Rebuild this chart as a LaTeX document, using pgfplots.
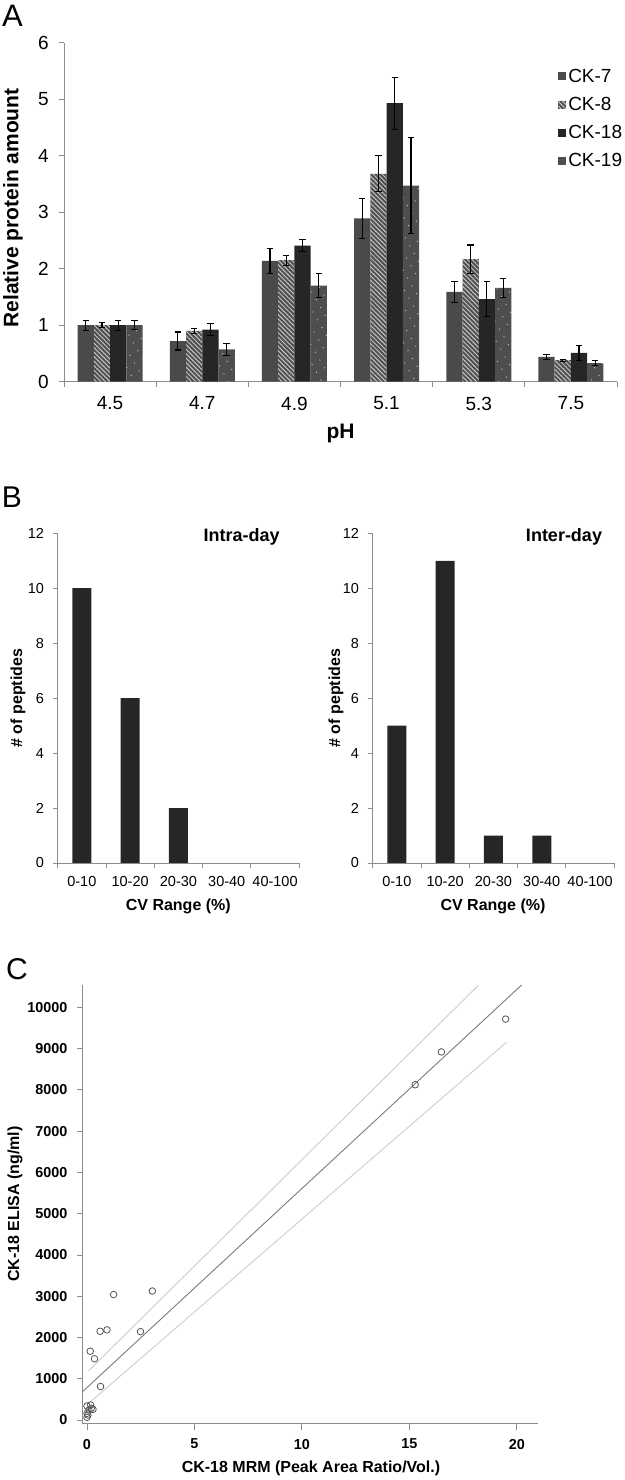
\documentclass[border=0pt]{standalone}
\usepackage{fontspec}
\setmainfont{Liberation Sans}
\usepackage{pgfplots}
\pgfplotsset{compat=1.18}
\usepackage{pgfplotstable}
\usetikzlibrary{patterns.meta}

\definecolor{axgray}{HTML}{8C8C8C}
\definecolor{cka}{HTML}{4A4A4A}
\definecolor{ckb}{HTML}{505050}
\definecolor{ckc}{HTML}{262626}
\definecolor{ckd}{HTML}{4E4E4E}
\definecolor{hatch}{HTML}{C4C4C4}
\definecolor{bardark}{HTML}{262626}
\definecolor{fitgray}{HTML}{7A7A7A}
\definecolor{cigray}{HTML}{CDCDCD}
\definecolor{ptgray}{HTML}{555555}

\newcommand\fs[1]{\fontsize{#1}{#1}\selectfont}

% panel A: relative amount per pH, with error
\pgfplotstableread{
x ck7 e7 ck8 e8 ck18 e18 ck19 e19
0 1.00 0.09 1.00 0.04 1.00 0.09 1.00 0.08
1 0.72 0.16 0.90 0.04 0.92 0.11 0.57 0.11
2 2.14 0.22 2.15 0.09 2.41 0.10 1.70 0.21
3 2.89 0.36 3.68 0.32 4.93 0.46 3.47 0.85
4 1.59 0.19 2.17 0.25 1.46 0.31 1.66 0.17
5 0.44 0.04 0.38 0.02 0.51 0.13 0.33 0.04
}\phdata

% panel B: CV ranges
\pgfplotstableread{
x intra inter
0 10 5
1 6 11
2 2 1
3 0 1
4 0 0
}\cvdata

% panel C: ELISA vs MRM
\pgfplotstableread{
x y
19.48 9716
16.49 8921
15.27 8126
3.04 3126
1.24 3040
0.61 2150
0.93 2185
2.49 2142
0.15 1667
0.35 1485
0.63 812
0.00 339
0.17 363
0.20 282
0.00 161
0.09 242
0.28 258
0.00 64
0.04 120
}\elisa

\pgfplotsset{
  panel/.style={
    scale only axis,
    axis x line*=bottom, axis y line*=left,
    axis line style={axgray, line width=0.9pt},
    tick style={axgray, line width=0.9pt},
    tick align=outside, major tick length=5pt,
    /pgf/number format/assume math mode=true,
    /pgf/number format/1000 sep={},
    scaled ticks=false,
    every tick label/.append style={inner sep=0pt, text=black},
  },
}

\begin{document}
\begin{tikzpicture}
\path[use as bounding box] (0pt,0pt) rectangle (624pt,1480pt);

% ---------------- A ----------------
\begin{axis}[panel,
  at={(64pt,1098.3pt)}, anchor=south west,
  width=553pt, height=339pt,
  xmin=-0.5, xmax=5.5, ymin=0, ymax=6,
  ytick={0,...,6},
  xtick={-0.5,0.5,...,5.5},
  x tick label as interval,
  xticklabels={4.5,4.7,4.9,5.1,5.3,7.5},
  ticklabel style={font=\fs{19}},
  yticklabel style={xshift=-10pt},
  xticklabel style={yshift=-10pt},
  ybar=0pt, bar width=16.25pt,
  legend style={draw=none, fill=none, at={(0.888,0.935)}, anchor=north west,
    font=\fs{19}, row sep=9.5pt, nodes={inner sep=2pt}},
  legend cell align=left,
  legend image code/.code={\path[#1] (0pt,-4pt) rectangle (8pt,4pt);},
  error bars/error bar style={black, line width=1.1pt},
  error bars/error mark options={black, rotate=90, mark size=3.2pt, line width=1.1pt},
]
\addplot[fill=cka, draw=none, error bars/.cd, y dir=both, y explicit]
  table[x=x, y=ck7, y error=e7] {\phdata};
\addplot[fill=ckb, draw=none,
  postaction={pattern={Lines[angle=-45, distance=3.2pt, line width=1pt]}, pattern color=hatch},
  error bars/.cd, y dir=both, y explicit]
  table[x=x, y=ck8, y error=e8] {\phdata};
\addplot[fill=ckc, draw=none, error bars/.cd, y dir=both, y explicit]
  table[x=x, y=ck18, y error=e18] {\phdata};
\addplot[fill=ckd, draw=none,
  postaction={pattern={Dots[angle=30, distance=9pt, radius=0.7pt]}, pattern color=hatch},
  error bars/.cd, y dir=both, y explicit]
  table[x=x, y=ck19, y error=e19] {\phdata};
\legend{CK-7, CK-8, CK-18, CK-19}
\end{axis}
\node[font=\fs{31}, inner sep=0pt] at (12.5pt,1464pt) {A};
\node[font=\fs{21}\bfseries, rotate=90, inner sep=0pt] at (13pt,1272pt) {Relative protein amount};
\node[font=\fs{21}\bfseries, inner sep=0pt] at (340.5pt,1047pt) {pH};

% ---------------- B ----------------
\pgfplotsset{cvpanel/.style={panel,
  width=241.5pt, height=329.7pt,
  xmin=-0.5, xmax=4.5, ymin=0, ymax=12,
  ytick={0,2,...,12},
  xtick={-0.5,0.5,...,4.5},
  x tick label as interval,
  xticklabels={0-10,10-20,20-30,30-40,40-100},
  ticklabel style={font=\fs{14.5}},
  yticklabel style={xshift=-8.5pt},
  xticklabel style={yshift=-8.5pt},
  ybar, bar width=19pt,
  restrict y to domain=0.5:100,
}}
\begin{axis}[cvpanel, at={(57.7pt,617pt)}, anchor=south west]
\addplot[fill=bardark, draw=none] table[x=x, y=intra] {\cvdata};
\end{axis}
\begin{axis}[cvpanel, at={(372.7pt,617pt)}, anchor=south west]
\addplot[fill=bardark, draw=none] table[x=x, y=inter] {\cvdata};
\end{axis}
\node[font=\fs{30}, inner sep=0pt] at (12pt,982.5pt) {B};
\node[font=\fs{18}\bfseries, inner sep=0pt] at (241.7pt,943.3pt) {Intra-day};
\node[font=\fs{18}\bfseries, inner sep=0pt] at (564pt,943.3pt) {Inter-day};
\node[font=\fs{16}\bfseries, rotate=90, inner sep=0pt] at (18pt,782pt) {\# of peptides};
\node[font=\fs{16}\bfseries, rotate=90, inner sep=0pt] at (336pt,782pt) {\# of peptides};
\node[font=\fs{16}\bfseries, inner sep=0pt] at (178.3pt,573.3pt) {CV Range (\%)};
\node[font=\fs{16}\bfseries, inner sep=0pt] at (493pt,573.3pt) {CV Range (\%)};

% ---------------- C ----------------
\begin{axis}[panel,
  at={(82.7pt,56.2pt)}, anchor=south west,
  width=455.6pt, height=439.1pt,
  xmin=-0.2, xmax=21, ymin=-92, ymax=10550,
  xtick={0,5,...,20},
  ytick={0,1000,...,10000},
  major tick length=6pt,
  ticklabel style={font=\fs{14.4}\bfseries},
  yticklabel style={xshift=-9pt},
  xticklabel style={yshift=-9pt},
]
\addplot[cigray, line width=0.9pt] coordinates {(0.07,1192) (18.22,10540)};
\addplot[cigray, line width=0.9pt] coordinates {(0.07,400) (19.52,9154)};
\addplot[fitgray, line width=0.9pt] coordinates {(-0.2,690) (20.22,10540)};
\addplot[only marks, mark=o, mark size=3.3pt, ptgray, mark options={line width=0.8pt}]
  table[x=x, y=y] {\elisa};
\end{axis}
\node[font=\fs{30}, inner sep=0pt] at (17pt,511pt) {C};
\node[font=\fs{16}\bfseries, rotate=90, inner sep=0pt] at (15pt,276pt) {CK-18 ELISA (ng/ml)};
\node[font=\fs{16}\bfseries, inner sep=0pt] at (311pt,12pt) {CK-18 MRM (Peak Area Ratio/Vol.)};
\end{tikzpicture}
\end{document}
